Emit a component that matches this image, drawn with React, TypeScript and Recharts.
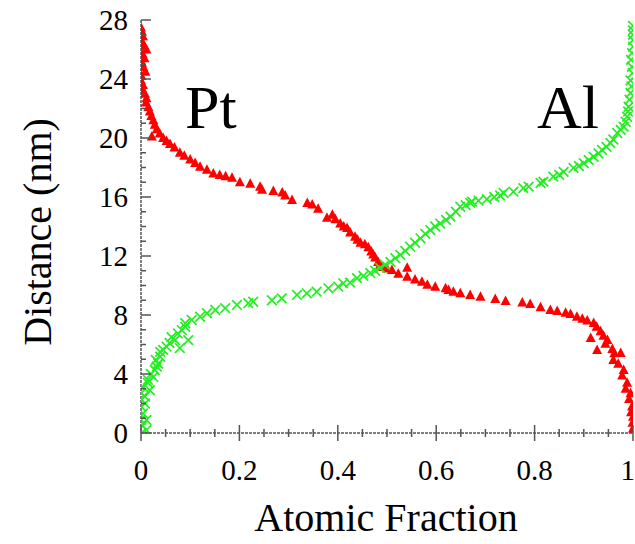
import React from 'react';
import { ScatterChart, Scatter, XAxis, YAxis } from 'recharts';

// Pt atomic fraction vs distance (nm)
const ptPoints: [number, number][] = [
  [0.0, 27.5], [0.002, 27.2], [0.004, 26.9], [0.001, 26.6], [0.006, 26.3], [0.011, 26.0], [0.003, 25.7],
  [0.007, 25.4], [0.002, 25.1], [0.005, 24.8], [0.009, 24.5], [0.001, 24.2], [0.0, 23.9], [0.004, 23.6],
  [0.002, 23.3], [0.008, 23.0], [0.011, 22.7], [0.01, 22.4], [0.015, 22.1], [0.018, 21.8], [0.021, 21.5],
  [0.025, 21.2], [0.028, 20.9], [0.032, 20.6], [0.022, 20.1], [0.038, 20.3], [0.045, 20.0], [0.052, 19.8],
  [0.059, 19.6], [0.068, 19.35], [0.079, 19.0], [0.088, 18.8], [0.1, 18.55], [0.11, 18.3], [0.12, 18.05],
  [0.134, 17.85], [0.147, 17.6], [0.16, 17.5], [0.172, 17.4], [0.185, 17.3], [0.201, 17.0], [0.222, 16.9],
  [0.242, 16.7], [0.246, 16.5], [0.269, 16.4], [0.287, 16.3], [0.293, 16.1], [0.307, 15.8], [0.338, 15.6],
  [0.348, 15.5], [0.36, 15.2], [0.378, 14.6], [0.389, 14.8], [0.395, 14.5], [0.405, 14.2], [0.412, 14.0],
  [0.419, 13.9], [0.425, 13.6], [0.435, 13.3], [0.44, 13.1], [0.446, 12.9], [0.455, 12.8], [0.462, 12.6],
  [0.468, 12.3], [0.472, 12.1], [0.476, 11.9], [0.482, 11.6], [0.486, 11.4], [0.492, 11.25], [0.5, 11.15],
  [0.51, 11.05], [0.523, 10.8], [0.541, 11.2], [0.541, 10.6], [0.557, 10.4], [0.571, 10.26], [0.582, 10.05],
  [0.598, 9.92], [0.619, 9.81], [0.625, 9.69], [0.635, 9.58], [0.649, 9.47], [0.669, 9.36], [0.69, 9.24],
  [0.72, 9.08], [0.741, 8.95], [0.775, 8.84], [0.791, 8.75], [0.812, 8.52], [0.832, 8.34], [0.846, 8.27],
  [0.863, 8.16], [0.873, 8.07], [0.886, 7.88], [0.897, 7.75], [0.907, 7.62], [0.92, 7.46], [0.926, 7.2],
  [0.934, 6.9], [0.94, 6.6], [0.914, 6.44], [0.948, 6.3], [0.944, 6.05], [0.927, 5.63], [0.958, 5.7],
  [0.962, 5.4], [0.975, 5.42], [0.96, 4.95], [0.97, 4.7], [0.981, 4.27], [0.978, 3.9], [0.988, 3.4],
  [0.985, 3.0], [0.995, 2.7], [0.992, 2.3], [0.998, 1.8], [0.996, 1.4], [1.0, 1.1], [0.999, 0.7],
  [1.0, 0.3], [0.998, 0.0],
];

// Al atomic fraction vs distance (nm)
const alPoints: [number, number][] = [
  [0.001, 0.0], [0.011, 0.2], [0.003, 0.5], [0.0, 0.88], [0.011, 0.88], [0.004, 1.33], [0.001, 1.78],
  [0.008, 2.0], [0.0, 2.3], [0.008, 2.46], [0.0, 2.7], [0.018, 2.9], [0.004, 3.14], [0.014, 3.4],
  [0.014, 3.6], [0.025, 3.8], [0.02, 4.0], [0.028, 4.27], [0.032, 4.5], [0.035, 4.7], [0.03, 4.95],
  [0.039, 5.17], [0.039, 5.5], [0.045, 5.63], [0.079, 5.76], [0.052, 5.85], [0.058, 6.1], [0.069, 6.3],
  [0.096, 6.3], [0.062, 6.5], [0.075, 6.75], [0.083, 6.98], [0.09, 7.2], [0.09, 7.44], [0.103, 7.66],
  [0.12, 7.88], [0.134, 8.12], [0.151, 8.34], [0.171, 8.46], [0.195, 8.68], [0.218, 8.8], [0.228, 8.9],
  [0.266, 9.0], [0.286, 9.13], [0.317, 9.36], [0.337, 9.47], [0.357, 9.58], [0.381, 9.81], [0.401, 9.92],
  [0.411, 10.15], [0.425, 10.2], [0.439, 10.5], [0.452, 10.65], [0.466, 10.85], [0.476, 11.0],
  [0.486, 11.19], [0.496, 11.4], [0.507, 11.6], [0.517, 11.85], [0.527, 12.07], [0.537, 12.35],
  [0.547, 12.63], [0.557, 12.9], [0.568, 13.2], [0.578, 13.5], [0.588, 13.76], [0.598, 14.0], [0.608, 14.2],
  [0.62, 14.45], [0.629, 14.67], [0.64, 15.0], [0.649, 15.34], [0.66, 15.45], [0.669, 15.6], [0.673, 15.68],
  [0.686, 15.75], [0.703, 15.85], [0.718, 16.0], [0.73, 16.1], [0.737, 16.27], [0.757, 16.36], [0.777, 16.6],
  [0.788, 16.7], [0.812, 16.95], [0.818, 17.04], [0.838, 17.38], [0.85, 17.5], [0.859, 17.7], [0.879, 17.97],
  [0.89, 18.1], [0.9, 18.3], [0.91, 18.5], [0.92, 18.73], [0.93, 18.95], [0.937, 19.19], [0.946, 19.4],
  [0.954, 19.66], [0.96, 19.9], [0.968, 20.34], [0.975, 20.55], [0.981, 20.77], [0.985, 21.1], [0.988, 21.44],
  [0.99, 21.8], [0.991, 22.12], [0.993, 22.6], [0.995, 23.05], [0.997, 23.5], [0.995, 23.9], [0.999, 24.4],
  [0.998, 24.83], [0.996, 25.3], [0.998, 25.76], [1.0, 26.2], [1.0, 26.64], [1.0, 27.0], [1.0, 27.3],
  [1.0, 27.6],
];

const xTicks = [0, 0.05, 0.1, 0.15, 0.2, 0.25, 0.3, 0.35, 0.4, 0.45, 0.5, 0.55, 0.6, 0.65, 0.7, 0.75, 0.8, 0.85, 0.9, 0.95, 1];
const xMajor = [0, 0.2, 0.4, 0.6, 0.8, 1];
const yTicks = [0, 1, 2, 3, 4, 5, 6, 7, 8, 9, 10, 11, 12, 13, 14, 15, 16, 17, 18, 19, 20, 21, 22, 23, 24, 25, 26, 27, 28];
const yMajor = [0, 4, 8, 12, 16, 20, 24, 28];

const ptData = ptPoints.map(([x, d]) => ({ x, d }));
const alData = alPoints.map(([x, d]) => ({ x, d }));

const FONT = "'Liberation Serif', 'DejaVu Serif', 'Times New Roman', serif";
const AXIS = '#555';
const serif = { fontFamily: FONT };

const isMajor = (list: number[], v: number) => list.some((m) => Math.abs(m - v) < 1e-6);

const XTick = (props: any) => {
  const { x, y, payload } = props;
  const major = isMajor(xMajor, payload.value);
  const last = payload.value === 1;
  const h = major ? 8 : 4;
  return (
    <g>
      <line x1={x} x2={x} y1={y - h} y2={y + h} stroke={AXIS} strokeWidth={1.5} />
      {major && (
        <text x={last ? x + 2 : x} y={y + 47} textAnchor={last ? 'end' : 'middle'} style={serif} fontSize={29} fill="#000">
          {payload.value}
        </text>
      )}
    </g>
  );
};

const YTick = (props: any) => {
  const { x, y, payload } = props;
  const major = isMajor(yMajor, payload.value);
  return (
    <g>
      <line x1={x} x2={x + (major ? 10 : 5)} y1={y} y2={y} stroke={AXIS} strokeWidth={1.5} />
      {major && (
        <text x={x - 13} y={y} dy="0.35em" textAnchor="end" style={serif} fontSize={29} fill="#000">
          {payload.value}
        </text>
      )}
    </g>
  );
};

const Triangle = (props: any) => {
  const { cx, cy } = props;
  return <path d={`M${cx},${cy - 5.5}L${cx + 5},${cy + 4}L${cx - 5},${cy + 4}Z`} fill="#ff0000" />;
};

const Cross = (props: any) => {
  const { cx, cy } = props;
  const r = 4.8;
  return (
    <path
      d={`M${cx - r},${cy - r}L${cx + r},${cy + r}M${cx + r},${cy - r}L${cx - r},${cy + r}`}
      stroke="#22ee22"
      strokeWidth={1.7}
      fill="none"
    />
  );
};

export default function App() {
  return (
    <div style={{ position: 'absolute', left: 0, top: 0, width: 635, height: 544, background: '#fff' }}>
      <ScatterChart width={635} height={544} margin={{ top: 20, right: 2, left: 0, bottom: 0 }}>
        <XAxis
          type="number"
          dataKey="x"
          domain={[0, 1]}
          ticks={xTicks}
          interval={0}
          height={111}
          tickSize={0}
          tickMargin={0}
          tick={<XTick />}
          axisLine={{ stroke: AXIS, strokeWidth: 1.5, strokeDasharray: '3 1' }}
          allowDataOverflow
        />
        <YAxis
          type="number"
          dataKey="d"
          domain={[0, 28]}
          ticks={yTicks}
          interval={0}
          width={141}
          tickSize={0}
          tickMargin={0}
          tick={<YTick />}
          axisLine={{ stroke: AXIS, strokeWidth: 1.5, strokeDasharray: '3 1' }}
          allowDataOverflow
        />
        <Scatter data={ptData} shape={<Triangle />} isAnimationActive={false} />
        <Scatter data={alData} shape={<Cross />} isAnimationActive={false} />
        <text x={386} y={531} textAnchor="middle" style={serif} fontSize={40} fill="#000">
          Atomic Fraction
        </text>
        <text
          x={37}
          y={232}
          transform="rotate(-90 37 232)"
          textAnchor="middle"
          dy="0.35em"
          style={serif}
          fontSize={40}
          fill="#000"
        >
          Distance (nm)
        </text>
        <text x={185} y={128} style={serif} fontSize={62} fill="#000">
          Pt
        </text>
        <text x={537} y={128} style={serif} fontSize={62} fill="#000">
          Al
        </text>
      </ScatterChart>
    </div>
  );
}
